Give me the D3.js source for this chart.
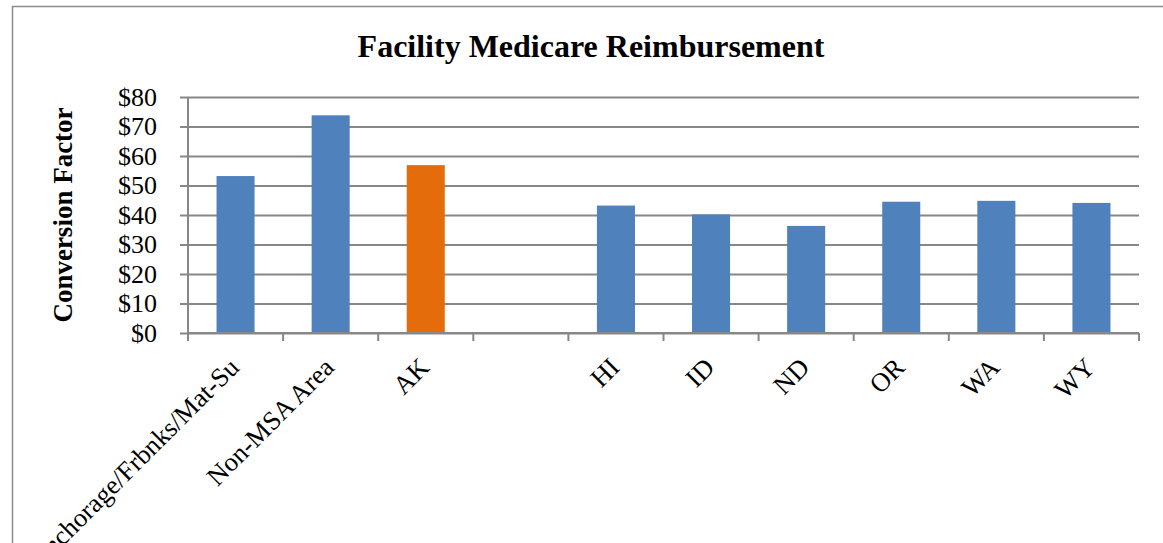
<!DOCTYPE html>
<html>
<head>
<meta charset="utf-8">
<script src="https://cdn.jsdelivr.net/npm/d3@7"></script>
<style>
  body { margin: 0; background: #fff; }
  svg text { font-family: "Liberation Serif", "Times New Roman", serif; fill: #000; }
</style>
</head>
<body>
<div class="chart"></div>
<script>
var categories = ["Anchorage/Frbnks/Mat-Su", "Non-MSA Area", "AK", "", "HI", "ID", "ND", "OR", "WA", "WY"];
var values = [53.2, 73.8, 56.9, null, 43.2, 40.2, 36.3, 44.5, 44.8, 44.1];
var highlight = ["AK"];
var yTicks = [0, 10, 20, 30, 40, 50, 60, 70, 80];
var titre = "Facility Medicare Reimbursement";
var yTitre = "Conversion Factor";

var margin = {top: 97, right: 24, bottom: 210, left: 188},
    width = 1163 - margin.left - margin.right,
    height = 543 - margin.top - margin.bottom;

var svg = d3.select(".chart")
    .append("svg")
    .attr("width", 1163)
    .attr("height", 543);

// cadre du graphique
svg.append("rect")
    .attr("x", 12.5)
    .attr("y", 6.5)
    .attr("width", 1200)
    .attr("height", 600)
    .style("fill", "none")
    .style("stroke", "#8c8c8c")
    .style("stroke-width", 1.5);

var canvas = svg.append("g")
    .attr("transform", "translate(" + margin.left + "," + margin.top + ")");

var xScale = d3.scaleBand()
    .domain(d3.range(categories.length))
    .range([0, width])
    .paddingInner(0.6)
    .paddingOuter(0.3);

var yScale = d3.scaleLinear()
    .domain([0, 80])
    .range([height, 0]);

// grille horizontale + etiquettes y
var yAxis = d3.axisLeft(yScale)
    .tickValues(yTicks)
    .tickSize(-width)
    .tickSizeOuter(0)
    .tickFormat(function (d) { return "$" + d; });

var gy = canvas.append("g")
    .attr("class", "y axis")
    .attr("font-family", null)
    .call(yAxis);
gy.select(".domain").remove();
gy.selectAll(".tick line")
    .attr("x1", -8)
    .style("stroke", "#878787")
    .style("stroke-width", 2);
gy.selectAll(".tick text")
    .attr("x", -31)
    .style("font-size", "26px");

// ligne verticale de l'axe y
canvas.append("line")
    .attr("x1", 0).attr("x2", 0)
    .attr("y1", 0).attr("y2", height)
    .style("stroke", "#878787")
    .style("stroke-width", 2);

// barres
canvas.append("g")
    .selectAll("rect")
    .data(values.map(function (v, i) { return {i: i, v: v}; })
        .filter(function (d) { return d.v !== null; }))
    .enter().append("rect")
    .attr("x", function (d) { return xScale(d.i); })
    .attr("y", function (d) { return yScale(d.v); })
    .attr("width", xScale.bandwidth())
    .attr("height", function (d) { return height - yScale(d.v); })
    .style("fill", function (d) {
        return highlight.indexOf(categories[d.i]) >= 0 ? "#E46C0A" : "#4F81BD";
    });

// axe x
var bounds = d3.range(categories.length + 1).map(function (i) { return i * width / categories.length; });

var gx = canvas.append("g")
    .attr("class", "x axis")
    .attr("transform", "translate(0," + height + ")");

gx.append("line")
    .attr("x1", 0).attr("x2", width)
    .style("stroke", "#878787")
    .style("stroke-width", 2);

gx.selectAll(".tk")
    .data(bounds)
    .enter().append("line")
    .attr("class", "tk")
    .attr("x1", function (d) { return d; })
    .attr("x2", function (d) { return d; })
    .attr("y1", 0).attr("y2", 8)
    .style("stroke", "#878787")
    .style("stroke-width", 2);

gx.selectAll(".lbl")
    .data(categories)
    .enter().append("text")
    .attr("class", "lbl")
    .attr("text-anchor", "end")
    .attr("transform", function (d, i) {
        var cx = xScale(i) + xScale.bandwidth() / 2 + 5;
        return "translate(" + cx + ",36) rotate(-45)";
    })
    .style("font-size", "26.5px")
    .text(function (d) { return d; });

// titre
svg.append("text")
    .attr("x", 591)
    .attr("y", 57)
    .attr("text-anchor", "middle")
    .style("font-size", "32px")
    .style("font-weight", "bold")
    .text(titre);

// titre axe y
svg.append("text")
    .attr("transform", "translate(72," + (margin.top + height / 2) + ") rotate(-90)")
    .attr("text-anchor", "middle")
    .style("font-size", "27px")
    .style("font-weight", "bold")
    .text(yTitre);
</script>
</body>
</html>
